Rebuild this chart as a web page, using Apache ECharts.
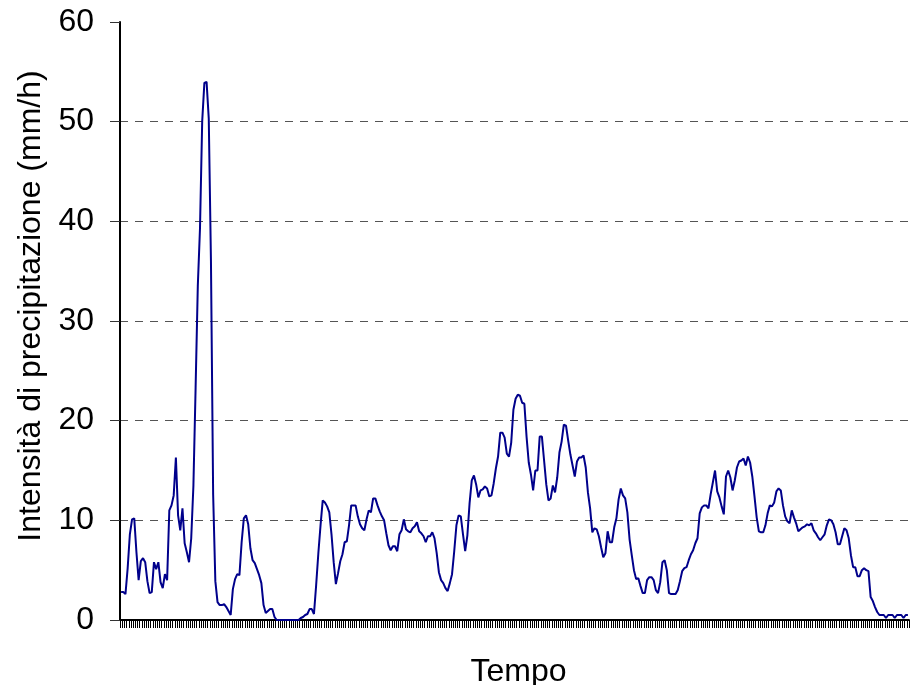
<!DOCTYPE html>
<html>
<head>
<meta charset="utf-8">
<title>Intensità di precipitazione</title>
<script src="https://cdn.jsdelivr.net/npm/echarts@6/dist/echarts.min.js"></script>
<style>
  html, body { margin: 0; padding: 0; background: #fff; }
  #chart { width: 910px; height: 685px; }
</style>
</head>
<body>
<div id="chart"></div>
<script>
// Rainfall intensity (mm/h), one value per time step
const intensity = [
  2.8, 2.8, 2.6, 5.2, 8.6, 10.1, 10.2, 6.8, 4.0, 5.9,
  6.2, 5.8, 3.9, 2.7, 2.8, 5.8, 5.1, 5.8, 3.8, 3.2,
  4.6, 4.0, 11.0, 11.5, 12.5, 16.3, 10.5, 9.0, 11.2, 7.7,
  6.8, 5.8, 8.2, 13.5, 23.3, 33.5, 39.3, 50.0, 53.9, 54.0,
  50.3, 36.0, 12.6, 3.9, 1.8, 1.5, 1.5, 1.6, 1.3, 0.9,
  0.5, 3.1, 4.1, 4.6, 4.5, 7.8, 10.2, 10.5, 9.6, 7.2,
  6.0, 5.7, 5.1, 4.5, 3.7, 1.5, 0.7, 0.9, 1.1, 1.1,
  0.3, 0.0, 0.0, 0.0, 0.0, 0.0, 0.0, 0.0, 0.0, 0.0,
  0.0, 0.0, 0.2, 0.3, 0.5, 0.6, 1.1, 1.1, 0.6, 3.5,
  6.7, 9.5, 12.0, 11.8, 11.4, 10.8, 8.6, 5.8, 3.6, 4.7,
  5.9, 6.6, 7.8, 7.9, 9.5, 11.5, 11.5, 11.5, 10.4, 9.6,
  9.2, 9.0, 10.1, 11.0, 10.8, 12.2, 12.2, 11.5, 10.9, 10.4,
  10.0, 8.7, 7.5, 7.0, 7.4, 7.4, 6.9, 8.6, 9.0, 10.1,
  9.1, 8.9, 8.8, 9.2, 9.4, 9.8, 8.9, 8.7, 8.4, 7.8,
  8.4, 8.4, 8.8, 8.2, 6.7, 4.8, 4.0, 3.7, 3.2, 2.9,
  3.7, 4.6, 6.9, 9.5, 10.5, 10.4, 8.6, 6.9, 8.5, 11.7,
  14.0, 14.5, 13.6, 12.3, 13.0, 13.1, 13.4, 13.2, 12.4, 12.5,
  13.7, 15.2, 16.4, 18.8, 18.8, 18.3, 16.7, 16.4, 17.8, 21.1,
  22.2, 22.6, 22.5, 21.8, 21.7, 18.4, 15.8, 14.6, 13.0, 15.0,
  15.0, 18.4, 18.4, 16.0, 13.6, 12.0, 12.2, 13.5, 12.8, 14.3,
  16.8, 17.9, 19.6, 19.5, 18.0, 16.6, 15.5, 14.4, 15.9, 16.3,
  16.3, 16.5, 15.3, 12.8, 11.2, 8.8, 9.2, 9.1, 8.4, 7.3,
  6.3, 6.7, 8.9, 7.8, 7.8, 9.3, 10.2, 12.1, 13.2, 12.5,
  12.2, 10.8, 8.1, 6.5, 5.0, 4.1, 4.2, 3.4, 2.7, 2.7,
  4.0, 4.3, 4.3, 4.0, 3.0, 2.7, 3.8, 5.8, 6.0, 5.0,
  2.7, 2.6, 2.6, 2.6, 3.0, 3.9, 4.9, 5.2, 5.3, 6.0,
  6.6, 7.0, 7.7, 8.2, 10.7, 11.3, 11.5, 11.5, 11.2, 12.6,
  13.8, 15.0, 12.9, 12.3, 11.4, 10.6, 14.4, 15.0, 14.3, 13.0,
  14.0, 15.3, 15.9, 16.0, 16.2, 15.5, 16.4, 15.8, 14.4, 12.4,
  10.3, 8.9, 8.8, 8.8, 9.5, 10.7, 11.5, 11.4, 11.8, 12.9,
  13.2, 13.0, 11.5, 10.4, 9.9, 9.7, 11.0, 10.3, 9.7, 8.9,
  9.1, 9.3, 9.4, 9.6, 9.5, 9.7, 9.0, 8.7, 8.3, 8.0,
  8.3, 8.6, 9.5, 10.1, 10.0, 9.6, 8.8, 7.6, 7.6, 8.4,
  9.2, 9.0, 8.2, 6.5, 5.3, 5.3, 4.4, 4.4, 5.0, 5.2,
  5.0, 4.9, 2.3, 1.9, 1.3, 0.8, 0.5, 0.5, 0.5, 0.2,
  0.5, 0.5, 0.5, 0.2, 0.5, 0.5, 0.5, 0.2, 0.5, 0.5
];

// Time-step categories (unlabelled on the axis, one tick each)
const steps = intensity.map((_, i) => String(i + 1));

// Value-axis ticks
const yMin = 0;
const yMax = 60;
const yStep = 10;

const FONT = '"Liberation Sans", Arial, sans-serif';

const chart = echarts.init(document.getElementById('chart'), null, { renderer: 'canvas' });

chart.setOption({
  animation: false,
  backgroundColor: '#ffffff',
  grid: {
    left: 120, right: 1, top: 22, bottom: 65,
    containLabel: false,
    outerBoundsMode: 'none'
  },
  xAxis: {
    type: 'category',
    data: steps,
    boundaryGap: true,
    name: 'Tempo',
    nameLocation: 'middle',
    nameGap: 36,
    nameTextStyle: { fontFamily: FONT, fontSize: 32, color: '#000', padding: [0, 0, 0, 8] },
    axisLine: { show: true, lineStyle: { color: '#000', width: 2 } },
    axisTick: { show: true, interval: 0, length: 8, lineStyle: { color: '#000', width: 1 } },
    axisLabel: { show: false },
    splitLine: { show: false }
  },
  yAxis: {
    type: 'value',
    min: yMin,
    max: yMax,
    interval: yStep,
    name: 'Intensità di precipitazione (mm/h)',
    nameLocation: 'middle',
    nameRotate: 90,
    nameGap: 63,
    nameTextStyle: { fontFamily: FONT, fontSize: 32, color: '#000', padding: [0, 0, 0, 30] },
    axisLine: { show: true, lineStyle: { color: '#000', width: 2 } },
    axisTick: { show: true, length: 10, lineStyle: { color: '#333', width: 1 } },
    axisLabel: { fontFamily: FONT, fontSize: 32, color: '#000', margin: 26 },
    splitLine: {
      show: true,
      showMinLine: false,
      showMaxLine: false,
      lineStyle: { color: '#555', width: 1, type: [8, 7] }
    }
  },
  series: [{
    type: 'line',
    data: intensity,
    showSymbol: false,
    symbol: 'none',
    smooth: false,
    lineStyle: { color: '#00008b', width: 2 },
    z: 3
  }]
});
</script>
</body>
</html>
